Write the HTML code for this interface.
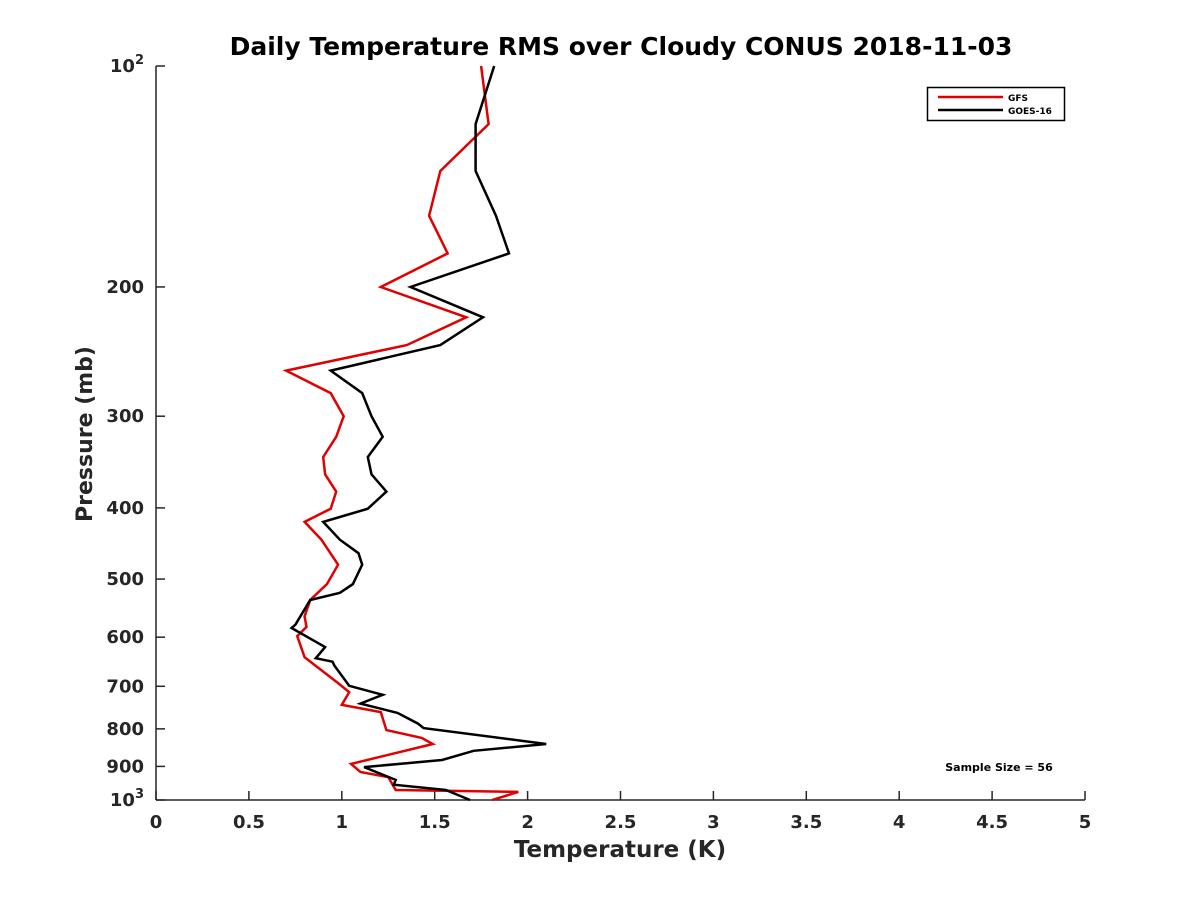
<!DOCTYPE html>
<html><head><meta charset="utf-8"><style>
body{margin:0;background:#fff}
svg{display:block;font-family:"DejaVu Sans","Liberation Sans",sans-serif;font-weight:bold}
</style></head><body>
<svg id="chart" width="1200" height="900">
<rect width="1200" height="900" fill="#fff"/>
<text x="621" y="55" text-anchor="middle" font-size="25" fill="#000">Daily Temperature RMS over Cloudy CONUS 2018-11-03</text>
<g id="axes"></g>
<g id="series"></g>
<g>
<rect x="927.5" y="87.5" width="137" height="33" fill="#fff" stroke="#000" stroke-width="1.5"/>
<line x1="938" y1="97" x2="1003" y2="97" stroke="#e00000" stroke-width="2.5"/>
<text x="1008" y="101" font-size="9">GFS</text>
<line x1="938" y1="110" x2="1003" y2="110" stroke="#000" stroke-width="2.5"/>
<text x="1008" y="114" font-size="9">GOES-16</text>
</g>
<text x="999" y="771" text-anchor="middle" font-size="11">Sample Size = 56</text>
<text x="620" y="857" text-anchor="middle" font-size="23" fill="#262626">Temperature (K)</text>
<text transform="translate(92,434) rotate(-90)" text-anchor="middle" font-size="22" fill="#262626">Pressure (mb)</text>
</svg>
<script>
const xTicks=[0,0.5,1,1.5,2,2.5,3,3.5,4,4.5,5];
const yTicks=[100,200,300,400,500,600,700,800,900,1000];
const yTickLabels=["","200","300","400","500","600","700","800","900",""];
const gfsP=[100,120,139,160,180,200,220,240,260,279,300,320,341,360,380,401,418,442,478,508,534,562,581,598,639,693,713,742,759,803,823,839,893,916,931,969,975,1000];
const gfsT=[1.75,1.79,1.53,1.47,1.57,1.21,1.67,1.35,0.70,0.94,1.01,0.97,0.90,0.91,0.97,0.94,0.80,0.89,0.98,0.92,0.83,0.80,0.81,0.76,0.80,0.98,1.04,1.00,1.21,1.24,1.43,1.49,1.05,1.10,1.25,1.29,1.95,1.81];
const goesP=[100,120,139,160,180,200,220,240,260,279,300,320,341,360,380,401,418,442,461,478,508,522,534,577,583,619,641,648,656,699,719,739,761,787,798,839,857,882,902,939,953,969,1000];
const goesT=[1.82,1.72,1.72,1.83,1.90,1.37,1.76,1.53,0.94,1.11,1.16,1.22,1.14,1.16,1.24,1.14,0.90,0.99,1.09,1.11,1.06,0.99,0.83,0.75,0.73,0.91,0.86,0.95,0.96,1.04,1.22,1.10,1.30,1.41,1.44,2.10,1.71,1.54,1.12,1.29,1.28,1.56,1.69];
const X0=156,X1=1085,Y0=66,Y1=800;
const xs=t=>X0+(X1-X0)*t/5;
const ys=p=>Y0+(Y1-Y0)*Math.log10(p/100);
const NS="http://www.w3.org/2000/svg";
function mk(tag,attrs,parent){const e=document.createElementNS(NS,tag);for(const k in attrs)e.setAttribute(k,attrs[k]);parent.appendChild(e);return e;}
const ax=document.getElementById('axes');
let l=mk('line',{x1:X0,y1:Y1,x2:X1,y2:Y1,stroke:'#262626','stroke-width':1.5},ax);


l=mk('line',{x1:X0,y1:Y0,x2:X0,y2:Y1,stroke:'#262626','stroke-width':1.5},ax);


xTicks.forEach(t=>{
 const x=xs(t);
 const tk=mk('line',{x1:x,y1:Y1,x2:x,y2:Y1-9,stroke:'#262626','stroke-width':1.5},ax);
 
 
 const tx=mk('text',{x:x,y:Y1+28,'text-anchor':'middle','font-size':18,fill:'#262626'},ax);
 tx.textContent=String(t);
 
 
});
yTicks.forEach((p,i)=>{
 const y=ys(p);
 const tk=mk('line',{x1:X0,y1:y,x2:X0+9,y2:y,stroke:'#262626','stroke-width':1.5},ax);
 
 
 const tx=mk('text',{x:X0-12,y:y+6,'text-anchor':'end','font-size':18,fill:'#262626'},ax);
 if(yTickLabels[i]===""){
  const e=p===100?"2":"3";
  tx.innerHTML='10<tspan dy="-8" font-size="13">'+e+'</tspan>';
 } else tx.textContent=yTickLabels[i];
 
 
});
const sg=document.getElementById('series');
function line(P,T,color,name){
 const pts=P.map((p,i)=>xs(T[i]).toFixed(1)+','+ys(p).toFixed(1)).join(' ');
 const e=mk('polyline',{points:pts,fill:'none',stroke:color,'stroke-width':2.5,'stroke-linejoin':'miter'},sg);
 
 
}
line(gfsP,gfsT,'#e00000','gfs-line');
line(goesP,goesT,'#000','goes16-line');
</script>
</body></html>
